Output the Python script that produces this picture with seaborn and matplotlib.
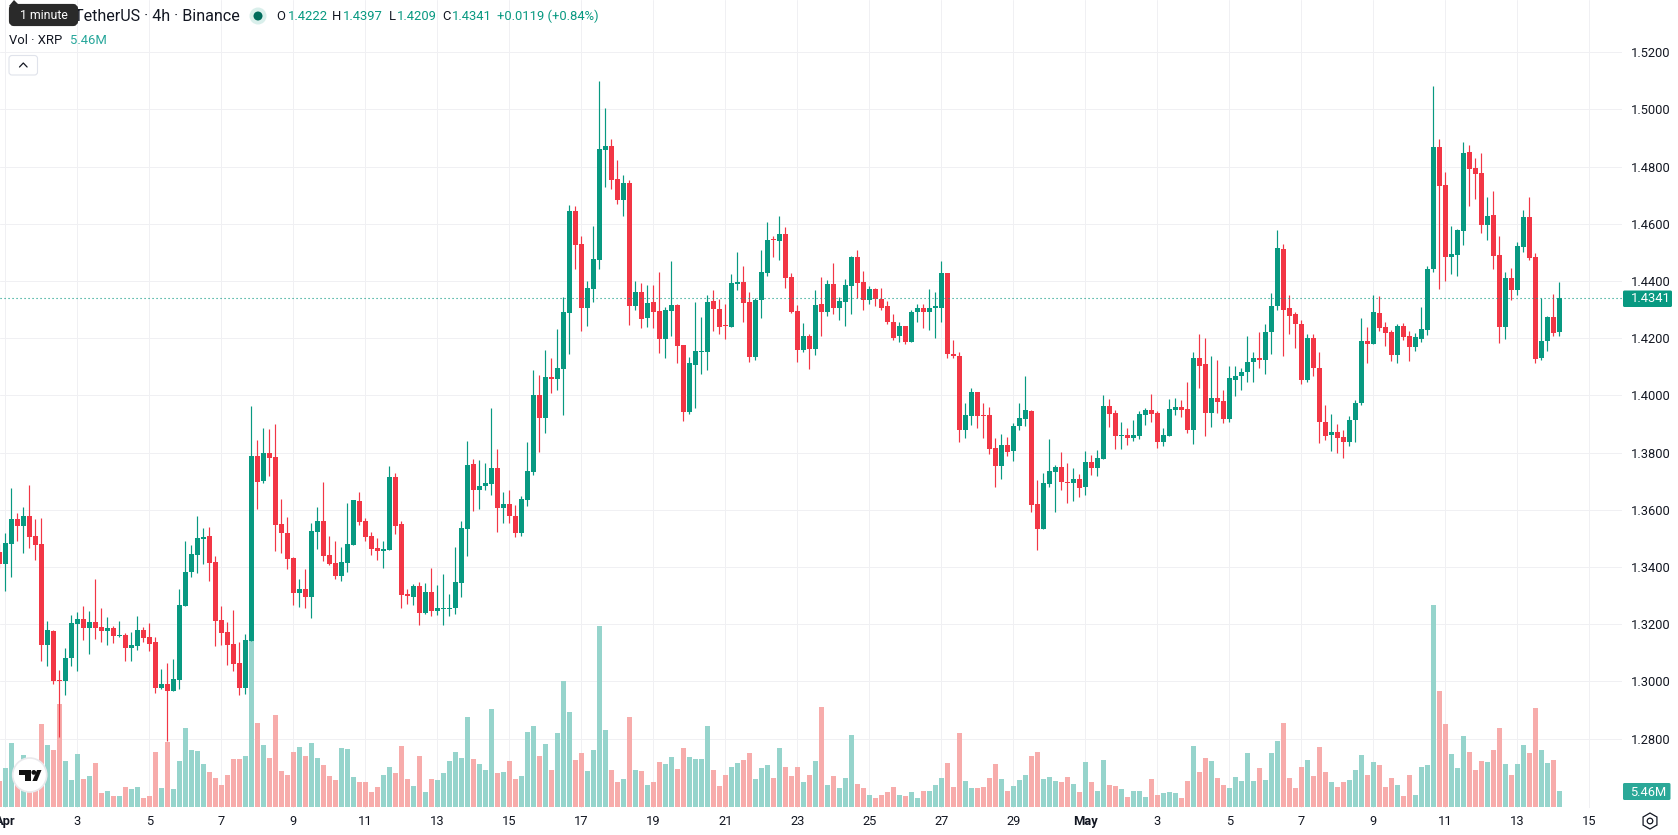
import numpy as np
import pandas as pd
import matplotlib
matplotlib.use("Agg")
import matplotlib.pyplot as plt
from matplotlib.patches import Circle, FancyBboxPatch, Polygon, Rectangle, RegularPolygon
import seaborn as sns

# XRP / TetherUS 4h candles; the series starts one bar before 1 April 00:00
opens = [1.3452,
    1.3410,1.3480,1.3567,1.3543,1.3578,1.3508,1.3480,1.3126,1.3175,1.3003,
    1.3000,1.3080,1.3199,1.3217,1.3185,1.3206,1.3189,1.3175,1.3185,1.3157,
    1.3161,1.3115,1.3122,1.3178,1.3154,1.3136,1.2975,1.2989,1.2965,1.3003,
    1.3262,1.3381,1.3441,1.3497,1.3508,1.3416,1.3213,1.3171,1.3129,1.3063,
    1.2975,1.3140,1.3788,1.3700,1.3798,1.3784,1.3550,1.3518,1.3431,1.3308,
    1.3322,1.3294,1.3522,1.3560,1.3441,1.3413,1.3367,1.3413,1.3476,1.3630,
    1.3560,1.3508,1.3466,1.3455,1.3459,1.3714,1.3550,1.3304,1.3294,1.3332,
    1.3238,1.3311,1.3245,1.3252,1.3252,1.3255,1.3343,1.3532,1.3760,1.3669,
    1.3683,1.3690,1.3746,1.3606,1.3620,1.3578,1.3518,1.3634,1.3732,1.4001,
    1.3919,1.4063,1.4056,1.4091,1.4287,1.4644,1.4529,1.4304,1.4371,1.4473,
    1.4858,1.4872,1.4756,1.4683,1.4742,1.4311,1.4360,1.4269,1.4325,1.4294,
    1.4196,1.4294,1.4315,1.4175,1.3940,1.4105,1.4150,1.4150,1.4329,1.4301,
    1.4245,1.4238,1.4388,1.4395,1.4325,1.4133,1.4332,1.4427,1.4546,1.4539,
    1.4564,1.4413,1.4294,1.4157,1.4206,1.4161,1.4318,1.4293,1.4388,1.4304,
    1.4325,1.4381,1.4482,1.4395,1.4332,1.4370,1.4335,1.4311,1.4258,1.4206,
    1.4241,1.4185,1.4290,1.4307,1.4290,1.4307,1.4307,1.4426,1.4146,1.4139,
    1.3880,1.3929,1.4010,1.3932,1.3932,1.3817,1.3754,1.3827,1.3806,1.3894,
    1.3918,1.3946,1.3621,1.3533,1.3691,1.3733,1.3750,1.3698,1.3694,1.3708,
    1.3680,1.3768,1.3747,1.3778,1.3964,1.3939,1.3859,1.3862,1.3852,1.3859,
    1.3932,1.3950,1.3939,1.3838,1.3859,1.3950,1.3960,1.3953,1.3880,1.4132,
    1.4108,1.3939,1.3992,1.3981,1.3918,1.4055,1.4066,1.4080,1.4115,1.4132,
    1.4125,1.4220,1.4311,1.4510,1.4304,1.4283,1.4251,1.4052,1.4202,1.4097,
    1.3908,1.3862,1.3873,1.3855,1.3838,1.3912,1.3972,1.4189,1.4178,1.4287,
    1.4238,1.4220,1.4140,1.4241,1.4206,1.4168,1.4196,1.4227,1.4441,1.4868,
    1.4735,1.4483,1.4490,1.4574,1.4851,1.4795,1.4777,1.4595,1.4630,1.4490,
    1.4238,1.4410,1.4367,1.4518,1.4623,1.4483,1.4129,1.4189,1.4273,1.4222]

highs = [1.3480,
    1.3518,1.3676,1.3588,1.3609,1.3686,1.3567,1.3571,1.3210,1.3178,1.3038,
    1.3115,1.3231,1.3241,1.3262,1.3245,1.3357,1.3255,1.3224,1.3192,1.3210,
    1.3168,1.3171,1.3227,1.3189,1.3203,1.3154,1.3042,1.3063,1.3077,1.3322,
    1.3490,1.3476,1.3578,1.3536,1.3539,1.3438,1.3262,1.3206,1.3248,1.3136,
    1.3164,1.3963,1.3844,1.3886,1.3882,1.3900,1.3637,1.3574,1.3434,1.3357,
    1.3392,1.3553,1.3609,1.3697,1.3508,1.3490,1.3469,1.3623,1.3634,1.3662,
    1.3571,1.3522,1.3501,1.3490,1.3753,1.3728,1.3560,1.3322,1.3339,1.3346,
    1.3343,1.3395,1.3336,1.3374,1.3304,1.3469,1.3560,1.3840,1.3777,1.3774,
    1.3763,1.3956,1.3812,1.3662,1.3669,1.3616,1.3648,1.3837,1.4089,1.4071,
    1.4157,1.4129,1.4231,1.4343,1.4665,1.4662,1.4557,1.4399,1.4592,1.5099,
    1.5005,1.4896,1.4823,1.4770,1.4753,1.4399,1.4392,1.4385,1.4385,1.4431,
    1.4308,1.4469,1.4318,1.4175,1.4133,1.4325,1.4273,1.4350,1.4367,1.4336,
    1.4318,1.4424,1.4501,1.4452,1.4360,1.4339,1.4508,1.4606,1.4557,1.4627,
    1.4588,1.4427,1.4315,1.4252,1.4213,1.4367,1.4412,1.4402,1.4461,1.4342,
    1.4405,1.4486,1.4507,1.4433,1.4381,1.4374,1.4374,1.4328,1.4283,1.4258,
    1.4244,1.4297,1.4321,1.4318,1.4370,1.4360,1.4468,1.4428,1.4195,1.4153,
    1.3974,1.4024,1.4013,1.3974,1.3960,1.3852,1.3866,1.3855,1.3904,1.3974,
    1.4069,1.3950,1.3705,1.3729,1.3848,1.3757,1.3803,1.3764,1.3747,1.3726,
    1.3806,1.3792,1.3810,1.4002,1.3988,1.3950,1.3908,1.3887,1.3915,1.3946,
    1.3957,1.4006,1.3946,1.3887,1.3988,1.3992,1.3985,1.4045,1.4153,1.4213,
    1.4199,1.4136,1.4125,1.4020,1.4101,1.4104,1.4097,1.4209,1.4153,1.4223,
    1.4248,1.4356,1.4577,1.4528,1.4349,1.4293,1.4262,1.4216,1.4213,1.4153,
    1.3967,1.3936,1.3901,1.3880,1.3929,1.3985,1.4269,1.4238,1.4350,1.4346,
    1.4255,1.4227,1.4248,1.4252,1.4224,1.4217,1.4308,1.4452,1.5082,1.4896,
    1.4781,1.4592,1.4581,1.4886,1.4875,1.4830,1.4847,1.4693,1.4714,1.4557,
    1.4431,1.4445,1.4536,1.4648,1.4693,1.4497,1.4339,1.4276,1.4353,1.4397]

lows = [1.3395,
    1.3315,1.3364,1.3490,1.3448,1.3466,1.3424,1.3070,1.3052,1.2989,1.2805,
    1.2951,1.3052,1.3035,1.3143,1.3094,1.3147,1.3136,1.3126,1.3133,1.3154,
    1.3070,1.3070,1.3108,1.3136,1.3105,1.2958,1.2972,1.2790,1.2965,1.2972,
    1.3262,1.3364,1.3378,1.3410,1.3350,1.3122,1.3126,1.3056,1.3035,1.2951,
    1.2954,1.3140,1.3602,1.3693,1.3718,1.3455,1.3448,1.3392,1.3266,1.3259,
    1.3255,1.3220,1.3462,1.3420,1.3406,1.3357,1.3350,1.3381,1.3476,1.3546,
    1.3490,1.3441,1.3424,1.3395,1.3459,1.3515,1.3255,1.3269,1.3266,1.3196,
    1.3234,1.3227,1.3231,1.3196,1.3227,1.3234,1.3294,1.3438,1.3595,1.3602,
    1.3669,1.3651,1.3522,1.3553,1.3553,1.3504,1.3508,1.3613,1.3721,1.3802,
    1.3867,1.4007,1.4017,1.3930,1.4143,1.4441,1.4224,1.4241,1.4325,1.4441,
    1.4728,1.4721,1.4669,1.4627,1.4245,1.4297,1.4234,1.4238,1.4234,1.4147,
    1.4129,1.4206,1.4112,1.3909,1.3933,1.3954,1.4073,1.4087,1.4224,1.4213,
    1.4196,1.4238,1.4367,1.4255,1.4115,1.4122,1.4269,1.4416,1.4483,1.4473,
    1.4374,1.4287,1.4115,1.4150,1.4091,1.4140,1.4209,1.4279,1.4286,1.4262,
    1.4241,1.4286,1.4339,1.4300,1.4318,1.4314,1.4297,1.4248,1.4195,1.4188,
    1.4181,1.4185,1.4258,1.4234,1.4230,1.4202,1.4255,1.4132,1.4129,1.3838,
    1.3852,1.3897,1.3887,1.3852,1.3796,1.3680,1.3708,1.3789,1.3771,1.3880,
    1.3894,1.3593,1.3460,1.3533,1.3680,1.3593,1.3670,1.3624,1.3631,1.3645,
    1.3652,1.3722,1.3719,1.3778,1.3890,1.3813,1.3813,1.3827,1.3841,1.3848,
    1.3897,1.3908,1.3817,1.3824,1.3859,1.3932,1.3925,1.3869,1.3831,1.4024,
    1.3859,1.3890,1.3939,1.3904,1.3908,1.3999,1.4020,1.4048,1.4048,1.4097,
    1.4076,1.4146,1.4300,1.4136,1.4216,1.4167,1.4038,1.4045,1.4069,1.3834,
    1.3845,1.3806,1.3799,1.3782,1.3824,1.3838,1.3965,1.4112,1.4178,1.4224,
    1.4171,1.4119,1.4112,1.4192,1.4119,1.4154,1.4185,1.4210,1.4431,1.4371,
    1.4399,1.4424,1.4416,1.4525,1.4662,1.4686,1.4567,1.4543,1.4441,1.4182,
    1.4196,1.4332,1.4350,1.4501,1.4473,1.4112,1.4122,1.4154,1.4206,1.4209]

closes = [1.3411,
    1.3483,1.3567,1.3543,1.3578,1.3504,1.3476,1.3126,1.3178,1.3000,1.3000,
    1.3080,1.3203,1.3217,1.3185,1.3206,1.3185,1.3175,1.3185,1.3157,1.3161,
    1.3115,1.3126,1.3178,1.3150,1.3129,1.2975,1.2989,1.2965,1.3007,1.3266,
    1.3381,1.3445,1.3501,1.3504,1.3413,1.3210,1.3168,1.3126,1.3059,1.2975,
    1.3143,1.3788,1.3697,1.3798,1.3781,1.3546,1.3518,1.3427,1.3308,1.3322,
    1.3294,1.3525,1.3560,1.3438,1.3410,1.3367,1.3416,1.3480,1.3634,1.3557,
    1.3504,1.3462,1.3455,1.3462,1.3714,1.3543,1.3301,1.3297,1.3332,1.3238,
    1.3311,1.3245,1.3255,1.3255,1.3255,1.3346,1.3536,1.3756,1.3669,1.3683,
    1.3693,1.3746,1.3606,1.3620,1.3578,1.3518,1.3637,1.3735,1.4001,1.3921,
    1.4063,1.4056,1.4094,1.4290,1.4644,1.4525,1.4304,1.4374,1.4476,1.4861,
    1.4872,1.4753,1.4683,1.4742,1.4311,1.4360,1.4266,1.4322,1.4290,1.4196,
    1.4297,1.4315,1.4171,1.3940,1.4112,1.4154,1.4154,1.4325,1.4301,1.4238,
    1.4241,1.4392,1.4395,1.4322,1.4133,1.4332,1.4431,1.4543,1.4543,1.4564,
    1.4410,1.4290,1.4157,1.4206,1.4161,1.4315,1.4293,1.4388,1.4307,1.4328,
    1.4384,1.4482,1.4391,1.4332,1.4370,1.4335,1.4307,1.4255,1.4202,1.4241,
    1.4185,1.4293,1.4307,1.4290,1.4307,1.4311,1.4426,1.4143,1.4136,1.3880,
    1.3932,1.4010,1.3929,1.3929,1.3813,1.3754,1.3827,1.3803,1.3894,1.3922,
    1.3950,1.3617,1.3533,1.3694,1.3736,1.3750,1.3698,1.3694,1.3708,1.3677,
    1.3768,1.3747,1.3782,1.3964,1.3936,1.3859,1.3862,1.3852,1.3862,1.3936,
    1.3950,1.3936,1.3838,1.3862,1.3953,1.3960,1.3950,1.3880,1.4132,1.4104,
    1.3939,1.3992,1.3978,1.3918,1.4059,1.4069,1.4083,1.4118,1.4132,1.4125,
    1.4223,1.4314,1.4514,1.4300,1.4279,1.4248,1.4052,1.4202,1.4094,1.3908,
    1.3859,1.3873,1.3852,1.3838,1.3915,1.3974,1.4189,1.4178,1.4290,1.4234,
    1.4217,1.4140,1.4241,1.4203,1.4168,1.4203,1.4231,1.4441,1.4868,1.4732,
    1.4483,1.4494,1.4578,1.4847,1.4791,1.4774,1.4595,1.4627,1.4487,1.4238,
    1.4410,1.4367,1.4522,1.4623,1.4480,1.4126,1.4189,1.4273,1.4217,1.4341]

# Traded volume per candle, in millions of XRP
volumes = [8.8,
    13.2,21.7,11.4,17.6,11.4,11.9,28.2,21.1,19.3,35.0,
    15.6,9.1,18.0,9.4,10.5,14.9,4.7,5.3,3.6,3.6,
    6.7,6.0,6.7,3.0,3.6,18.7,6.4,22.1,6.0,15.6,
    26.9,19.3,19.0,14.6,11.8,9.8,7.4,10.8,16.3,16.3,
    17.3,56.7,28.6,21.1,16.6,31.3,12.2,10.8,18.7,20.4,
    17.3,21.7,16.6,14.2,10.5,9.1,20.0,19.7,10.1,8.4,
    8.4,5.0,6.7,10.8,13.5,11.5,20.7,9.4,7.1,17.3,
    5.0,9.4,9.1,11.5,15.6,18.7,16.6,30.6,16.3,14.6,
    12.5,33.3,11.5,11.8,15.6,9.4,10.5,25.5,27.5,17.3,
    21.4,12.5,25.1,42.9,32.3,15.9,18.3,12.2,19.3,61.8,
    26.2,12.5,8.4,9.4,30.6,12.5,12.2,7.4,8.4,15.2,
    14.6,17.0,12.9,20.0,17.0,16.3,16.3,27.5,12.5,7.1,
    10.8,13.5,14.9,15.9,18.3,9.4,13.2,14.2,9.8,20.0,
    13.5,10.5,13.5,8.4,10.8,15.6,34.0,7.4,10.5,6.4,
    9.8,24.5,7.7,6.4,4.0,3.0,4.0,5.0,6.7,4.0,
    3.6,5.0,3.0,5.3,5.3,7.4,9.8,14.9,6.7,25.1,
    8.8,6.4,6.4,6.7,9.8,14.6,9.4,5.3,7.1,9.1,
    10.8,17.3,18.7,9.4,10.1,8.8,8.4,10.1,7.7,5.0,
    15.2,8.4,5.3,15.9,7.4,7.2,6.1,3.4,5.5,5.5,
    3.4,9.6,4.1,4.8,5.1,4.8,3.1,8.9,20.8,11.9,
    16.7,15.7,9.9,7.5,6.5,10.2,8.9,18.4,8.9,13.3,
    9.2,18.4,22.5,28.7,9.9,6.5,13.7,16.0,10.6,20.5,
    11.9,8.5,6.8,8.5,9.2,12.6,17.7,10.9,15.4,14.3,
    6.8,9.9,7.5,3.8,10.9,4.1,13.7,14.3,69.0,39.6,
    28.3,18.1,13.3,24.2,18.8,12.6,15.7,15.4,19.5,27.0,
    14.7,10.9,14.7,21.2,18.4,33.8,19.5,15.0,16.0,5.46]

date_labels = ["Apr", "3", "5", "7", "9", "11", "13", "15", "17", "19", "21", "23", "25",
               "27", "29", "May", "3", "5", "7", "9", "11", "13", "15"]
price_ticks = [1.28, 1.30, 1.32, 1.34, 1.36, 1.38, 1.40, 1.42, 1.44, 1.46, 1.48, 1.50, 1.52]
last_price = 1.4341
last_volume = 5.46

UP = "#089981"
DOWN = "#F23645"
UP_VOL = "#92D3CA"
DOWN_VOL = "#F7A9A8"
INK = "#131722"
GRID = "#F0F0F3"
BARS_PER_TICK = 12

sns.set_theme(style="white")
plt.rcParams["font.family"] = ["Roboto", "DejaVu Sans"]

W, H = 1678, 835
fig = plt.figure(figsize=(W / 100, H / 100), dpi=100, facecolor="white")
pane_rect = [0, 1 - 808 / H, 1622 / W, 808 / H]

frame = pd.DataFrame({"open": opens, "high": highs, "low": lows, "close": closes, "volume": volumes})
frame["bar"] = np.arange(len(frame)) - 1
frame["direction"] = np.where(frame["close"] >= frame["open"], "up", "down")
palette = {"up": UP, "down": DOWN}
volume_palette = {"up": UP_VOL, "down": DOWN_VOL}

x_limits = (-0.888, 269.44)
price_limits = (1.2557, 1.53822)
volume_limits = (-0.341, 275.2)

# Bottom layer: price/time scales and the grid
ax = fig.add_axes(pane_rect, zorder=1)
ax.set_xlim(x_limits)
ax.set_ylim(price_limits)
ax.yaxis.tick_right()
ax.set_yticks(price_ticks)
ax.set_yticklabels([f"{p:.4f}" for p in price_ticks])
ax.set_xticks(np.arange(len(date_labels)) * BARS_PER_TICK)
ax.set_xticklabels(date_labels)
ax.grid(True, color=GRID, linewidth=0.72)
ax.set_axisbelow(True)
ax.tick_params(axis="x", length=0, pad=5, labelsize=9.3, colors=INK)
ax.tick_params(axis="y", length=0, pad=6.5, labelsize=9.3, colors=INK)
for label_artist in ax.get_xticklabels():
    if label_artist.get_text() in ("Apr", "May"):
        label_artist.set_fontweight("bold")
for spine in ax.spines.values():
    spine.set_visible(False)

# Middle layer: volume histogram on its own scale, letting the grid show faintly
ax_vol = fig.add_axes(pane_rect, zorder=2)
ax_vol.patch.set_visible(False)
sns.barplot(data=frame, x="bar", y="volume", hue="direction", palette=volume_palette,
            native_scale=True, dodge=False, width=0.83, saturation=1, alpha=0.96,
            legend=False, linewidth=0, ax=ax_vol)
ax_vol.set_xlim(x_limits)
ax_vol.set_ylim(volume_limits)
ax_vol.axis("off")

# Top layer: candles and the last-price line
ax_c = fig.add_axes(pane_rect, zorder=3)
ax_c.patch.set_visible(False)
colors = frame["direction"].map(palette)
body_low = frame[["open", "close"]].min(axis=1)
body_high = frame[["open", "close"]].max(axis=1)
ax_c.vlines(frame["bar"], frame["low"], frame["high"], colors=colors, linewidth=0.85, zorder=2)
ax_c.bar(frame["bar"], body_high - body_low, bottom=body_low, width=0.88, color=colors,
         linewidth=0, zorder=3)
ax_c.axhline(last_price, color=UP, linewidth=0.8, linestyle=(0, (1, 2.6)), zorder=4)
ax_c.set_xlim(x_limits)
ax_c.set_ylim(price_limits)
ax_c.axis("off")

# Chart furniture in a pixel-based overlay
ui = fig.add_axes([0, 0, 1, 1], zorder=10)
ui.set_xlim(0, W)
ui.set_ylim(H, 0)
ui.axis("off")
ui.patch.set_visible(False)

TXT = 9.4


def label(x, y, s, color=INK, size=TXT, ha="left", **kw):
    ui.text(x, y, s, color=color, fontsize=size, ha=ha, va="center", **kw)


# Legend header
label(240, 16.5, "TetherUS · 4h · Binance", size=11.6, ha="right")
ui.add_patch(FancyBboxPatch((11, 6), 65, 18, boxstyle="round,pad=0,rounding_size=3",
                            facecolor="#2A2A2A", edgecolor="#2A2A2A", linewidth=3, zorder=5))
ui.add_patch(Polygon([(9, 6), (14, 0), (20, 6)], facecolor="#2A2A2A", edgecolor="none", zorder=5))
label(43.5, 15.5, "1 minute", color="white", size=8.8, ha="center", zorder=6)
ui.add_patch(Circle((258, 16), 8.5, facecolor="#D9EFEB", edgecolor="none"))
ui.add_patch(Circle((258, 16), 4.5, facecolor="#006B5B", edgecolor="none"))
for x, s in [(276, "O"), (332, "H"), (389, "L"), (442, "C")]:
    label(x, 16.5, s)
for x, s in [(287.5, "1.4222"), (343, "1.4397"), (396.5, "1.4209"), (452, "1.4341"),
             (497, "+0.0119 (+0.84%)")]:
    label(x, 16.5, s, color=UP)
label(9, 41, "Vol · XRP")
label(70, 41, "5.46M", color="#26A69A")

# Collapse button
ui.add_patch(FancyBboxPatch((9, 55.5), 28.5, 19.5, boxstyle="round,pad=0,rounding_size=3",
                            facecolor="white", edgecolor="#E0E3EB", linewidth=0.8))
ui.plot([19.5, 23.3, 27.1], [67, 63, 67], color=INK, linewidth=0.9)

# Last-value tags on the price scale
ui.add_patch(FancyBboxPatch((1623, 290.5), 49, 16.5, boxstyle="round,pad=0,rounding_size=1.5",
                            facecolor=UP, edgecolor="none"))
label(1631, 299, f"{last_price:.4f}", color="white", size=9.3)
ui.add_patch(FancyBboxPatch((1623, 783), 47.5, 17, boxstyle="round,pad=0,rounding_size=1.5",
                            facecolor="#2BA898", edgecolor="none"))
label(1630, 792, f"{last_volume:.2f}M", color="white", size=9.3)

# Branding badge
ui.add_patch(Circle((29.7, 775), 17, facecolor="white", edgecolor="#E9E9EC", linewidth=1.2))
ui.add_patch(Rectangle((19, 770), 12, 5, facecolor="#111111", edgecolor="none"))
ui.add_patch(Rectangle((25, 770), 6, 11, facecolor="#111111", edgecolor="none"))
ui.add_patch(Circle((33.8, 772.4), 2.4, facecolor="#111111", edgecolor="none"))
ui.add_patch(Polygon([(37, 770), (41.5, 770), (37, 781), (32.4, 781)], facecolor="#111111",
                     edgecolor="none"))

# Settings glyph in the scale corner
ui.add_patch(RegularPolygon((1650, 821), 6, radius=8, facecolor="white", edgecolor=INK, linewidth=0.9))
ui.add_patch(Circle((1650, 821), 2.8, facecolor="white", edgecolor=INK, linewidth=0.9))

fig.savefig("out.png", dpi=100, facecolor="white")
